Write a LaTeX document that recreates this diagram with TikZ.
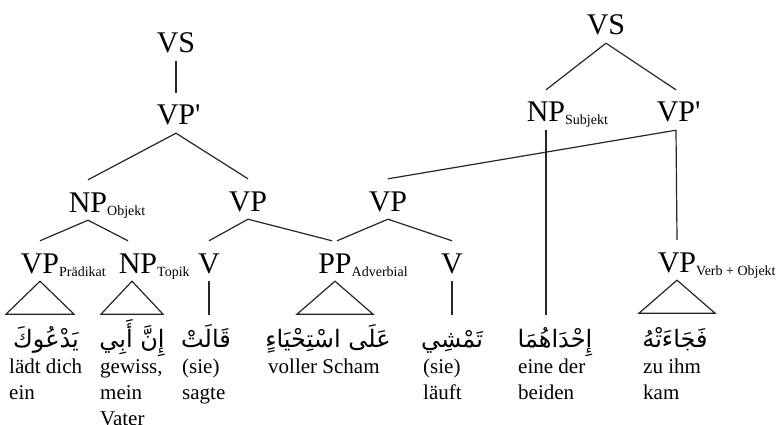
\documentclass[tikz,border=0pt]{standalone}
\usepackage{fontspec}
\setmainfont{Liberation Serif}
\newfontfamily\arabicfont[Script=Arabic]{DejaVu Sans}
\TeXXeTstate=1
\usetikzlibrary{calc}

% subscript on a category label; kept out of the node box so anchors sit under the category
\newcommand\catsub[1]{\rlap{\raisebox{-3pt}{\fontsize{14}{14}\selectfont #1}}}
\newcommand\primemark{\rlap{\textquotesingle}}
\newcommand\glosslines[1]{\begin{tabular}[t]{@{}l@{}}#1\end{tabular}}
\newcommand\arabword[1]{\arabicfont\beginR #1\endR}

\tikzset{
  cat/.style={font=\fontsize{30}{30}\selectfont, inner sep=0pt,
              text height=32pt, text depth=8pt, anchor=base},
  leaf/.style={font=\fontsize{24}{24}\selectfont, inner sep=0pt,
               text height=32pt, text depth=6pt, anchor=base},
  gloss/.style={font=\fontsize{21}{26}\selectfont, inner sep=0pt, anchor=base west},
  edge/.style={line width=1.2pt, draw=black!85},
}

\begin{document}
\begin{tikzpicture}[x=1pt, y=-1pt]
\useasboundingbox (0,0) rectangle (779,425);

% ---- left tree: categories
\node[cat] (vsL)   at (176,53)  {VS};
\node[cat] (vpbL)  at (176,125) {VP\primemark};
\node[cat] (npObj) at (88,212)  {NP\catsub{Objekt}};
\node[cat] (vpL)   at (248,211) {VP};
\node[cat] (vpM)   at (388,211) {VP};
\node[cat] (vpPr)  at (40,273)  {VP\catsub{Prädikat}};
\node[cat] (npTop) at (138,273) {NP\catsub{Topik}};
\node[cat] (vL)    at (209,273) {V};
\node[cat] (ppAdv) at (335,273) {PP\catsub{Adverbial}};
\node[cat] (vM)    at (452,273) {V};

% ---- right tree: categories
\node[cat] (vsR)   at (606,35)  {VS};
\node[cat] (npSub) at (546,122) {NP\catsub{Subjekt}};
\node[cat] (vpbR)  at (676,122) {VP\primemark};
\node[cat] (vpVO)  at (677,272) {VP\catsub{Verb + Objekt}};

% ---- Arabic words
\node[leaf] (w1) at (46,347)  {\arabword{يَدْعُوكَ}};
\node[leaf] (w2) at (132,347) {\arabword{إِنَّ أَبِي}};
\node[leaf] (w3) at (206,347) {\arabword{قَالَتْ}};
\node[leaf] (w4) at (328,347) {\arabword{عَلَى اسْتِحْيَاءٍ}};
\node[leaf] (w5) at (452,347) {\arabword{تَمْشِي}};
\node[leaf] (w6) at (555,347) {\arabword{إِحْدَاهُمَا}};
\node[leaf] (w7) at (675,347) {\arabword{فَجَاءَتْهُ}};

% ---- German glosses
\node[gloss] (g1) at (9,373)   {\glosslines{lädt dich\\ein}};
\node[gloss] (g2) at (100,373) {\glosslines{gewiss,\\mein\\Vater}};
\node[gloss] (g3) at (182,373) {\glosslines{(sie)\\sagte}};
\node[gloss] (g4) at (268,373) {\glosslines{voller Scham}};
\node[gloss] (g5) at (423,373) {\glosslines{(sie)\\läuft}};
\node[gloss] (g6) at (518,373) {\glosslines{eine der\\beiden}};
\node[gloss] (g7) at (643,373) {\glosslines{zu ihm\\kam}};

% ---- branches
\draw[edge] (vsL.south) -- (vpbL.north);
\draw[edge] (vpbL.south) -- (npObj.north);
\draw[edge] (vpbL.south) -- (vpL.north);
\draw[edge] (npObj.south) -- (vpPr.north);
\draw[edge] (npObj.south) -- ($(npTop.north)+(-10,0)$);
\draw[edge] (vpL.south) -- (vL.north);
\draw[edge] (vpL.south) -- ($(ppAdv.north)+(-3,0)$);
\draw[edge] (vpM.south) -- ($(ppAdv.north)+(2,0)$);
\draw[edge] (vpM.south) -- (vM.north);

\draw[edge] (vsR.south) -- (npSub.north);
\draw[edge] (vsR.south) -- (vpbR.north);
\draw[edge] (vpbR.south) -- (vpM.north);
\draw[edge] (vpbR.south) -- (vpVO.north);
\draw[edge] (npSub.south) -- (npSub.south |- w6.north);

% ---- terminal lines and triangles
\draw[edge] (vL.south) -- (vL.south |- w3.north);
\draw[edge] (vM.south) -- (vM.south |- w5.north);
\draw[edge] (vpPr.south) -- ++(-34,33) -- ++(68,0) -- cycle;
\draw[edge] ($(npTop.south)+(-6,0)$) -- ++(-31,33) -- ++(62,0) -- cycle;
\draw[edge] (ppAdv.south) -- ++(-38,33) -- ++(76,0) -- cycle;
\draw[edge] (vpVO.south) -- ++(-38,33) -- ++(76,0) -- cycle;
\end{tikzpicture}
\end{document}
